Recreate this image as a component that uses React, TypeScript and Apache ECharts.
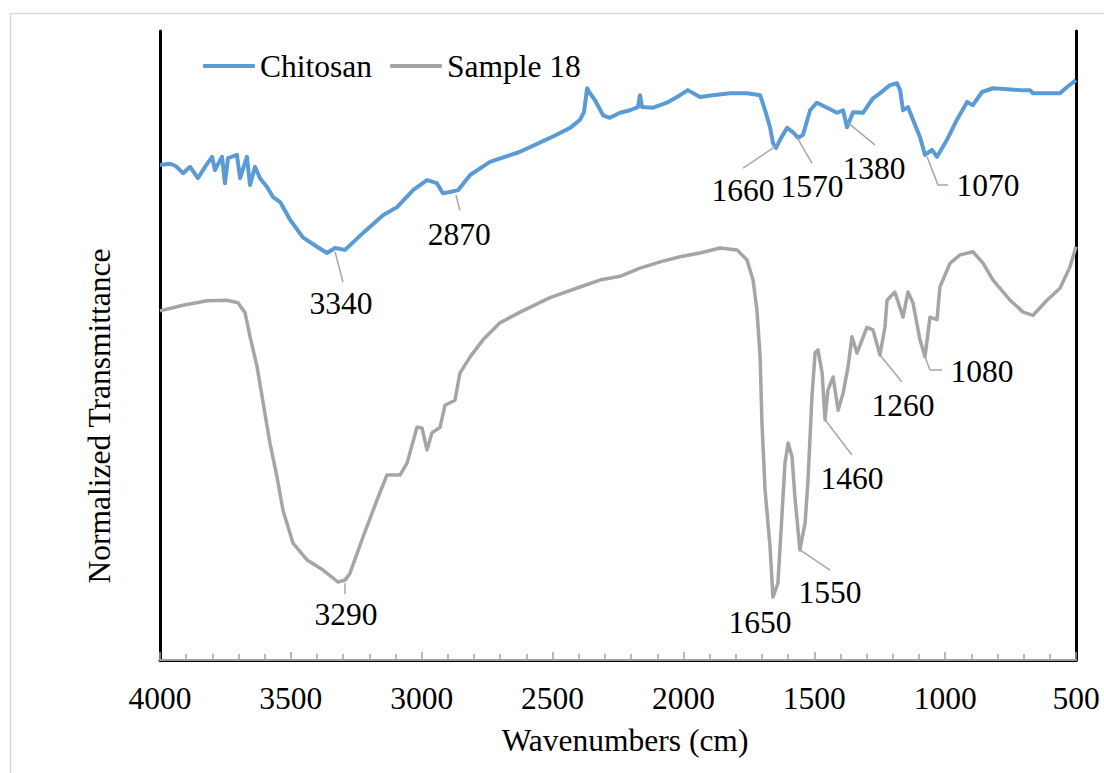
import React, { useEffect, useRef } from "react";
import * as echarts from "echarts";

// Chitosan spectrum (wavenumber cm-1, normalized transmittance, arbitrary units 0-100)
const chitosanWN = [4000,3962,3939,3912,3885,3855,3828,3801,3790,3763,3752,3740,3706,3694,3668,3656,3637,3618,3591,3568,3541,3503,3454,3400,3362,3331,3293,3224,3148,3094,3033,2980,2942,2919,2892,2861,2815,2739,2624,2510,2433,2395,2380,2368,2357,2338,2307,2281,2242,2204,2174,2166,2158,2116,2063,2013,1983,1937,1887,1822,1757,1707,1688,1669,1658,1646,1631,1604,1581,1562,1543,1516,1490,1451,1413,1390,1375,1352,1314,1276,1249,1211,1184,1172,1161,1142,1123,1096,1077,1050,1031,993,955,916,894,859,817,714,676,664,611,561,534,500];
const chitosanT = [78.7,78.9,78.5,77.4,78.4,76.6,78.4,80.0,77.9,80.0,75.8,79.8,80.3,76.6,80.0,75.5,78.4,76.6,75.2,73.6,72.8,70.0,67.2,65.7,64.7,65.5,65.2,67.9,70.7,72.0,74.7,76.3,75.8,74.2,74.4,74.7,77.1,79.2,80.8,83.0,84.6,85.9,87.1,90.9,90.1,89.0,86.6,86.2,87.0,87.4,87.9,89.8,87.9,87.8,88.6,89.8,90.6,89.5,89.8,90.1,90.1,89.8,87.4,84.7,82.2,81.4,82.7,84.6,83.9,83.0,83.5,87.4,88.6,87.8,87.0,87.4,84.7,87.1,87.0,89.3,90.1,91.4,91.7,90.6,87.4,87.9,85.9,83.1,80.3,81.1,80.0,82.7,85.9,88.7,88.2,90.3,90.9,90.6,90.6,90.1,90.1,90.1,91.1,92.2];

// Sample 18 spectrum
const sampleWN = [4000,3912,3820,3744,3702,3675,3656,3629,3606,3580,3553,3530,3492,3438,3377,3320,3293,3274,3224,3171,3133,3083,3056,3018,2999,2980,2961,2930,2911,2873,2854,2815,2766,2701,2624,2510,2395,2319,2242,2166,2089,2013,1937,1860,1795,1757,1734,1719,1707,1700,1688,1669,1658,1639,1623,1612,1600,1585,1574,1555,1535,1524,1509,1497,1486,1470,1459,1448,1428,1409,1390,1371,1356,1337,1299,1276,1249,1230,1222,1192,1161,1142,1123,1096,1077,1058,1031,1020,981,943,894,855,817,752,702,664,611,561,523,500];
const sampleT = [55.5,56.4,57.1,57.2,56.8,55.2,51.4,46.6,40.9,34.5,29.1,23.8,18.6,15.9,14.3,12.4,12.7,13.8,19.6,25.4,29.4,29.4,31.3,37.0,36.9,33.4,36.1,37.0,40.5,41.3,45.6,48.2,50.9,53.6,55.3,57.6,59.3,60.4,61.0,62.3,63.3,64.1,64.7,65.5,65.2,63.6,60.4,55.6,48.2,37.7,27.0,18.0,10.0,12.2,23.4,31.3,34.5,32.3,25.9,17.5,21.8,28.6,41.8,48.8,49.3,45.6,38.2,42.9,45.0,39.7,42.4,46.6,51.4,48.8,52.9,52.5,48.5,52.9,57.2,58.5,54.5,58.5,56.8,50.9,48.2,54.5,54.1,59.3,63.1,64.4,64.9,63.1,60.4,57.2,55.3,54.8,57.2,59.1,62.5,65.7];

const seriesNames = ["Chitosan", "Sample 18"];
const xTicks = { min: 500, max: 4000, step: 500 };

// Peak annotations: label, label position (wn, T), leader polyline points
const chitosanPeaks = ["3340", "2870", "1660", "1570", "1380", "1070"];
const chitosanPeakPos = [[3308, 56.6], [2857, 67.6], [1772, 74.6], [1509, 75.2], [1272, 78.2], [836, 75.4]];
const chitosanLeaders = [
  [[3331, 64.9], [3301, 60.1]],
  [[2869, 73.9], [2854, 71.5]],
  [[1650, 81.6], [1772, 78.2]],
  [[1566, 83.1], [1509, 79.0]],
  [[1371, 85.4], [1268, 81.9]],
  [[1069, 80.0], [1027, 75.5], [989, 75.5]],
];
const samplePeaks = ["3290", "1650", "1550", "1460", "1260", "1080"];
const samplePeakPos = [[3289, 7.3], [1707, 6.0], [1440, 10.7], [1356, 28.8], [1161, 40.5], [859, 45.8]];
const sampleLeaders = [
  [[3293, 12.2], [3293, 10.5]],
  [[1555, 17.5], [1440, 14.3]],
  [[1459, 38.2], [1356, 32.6]],
  [[1249, 48.5], [1165, 44.2]],
  [[1077, 48.2], [1058, 46.1], [1012, 46.1]],
];

const FONT = "'Liberation Serif', 'Times New Roman', serif";
const FS = 31.5;
const BLUE = "#5b9bd5";
const GRAY = "#a5a5a5";
const LEADER = "#a6a6a6";

function zip(a: number[], b: number[]) {
  return a.map((v, i) => [v, b[i]]);
}

function leaderSegments(polys: number[][][]) {
  const segs: any[] = [];
  polys.forEach((p) => {
    for (let i = 0; i < p.length - 1; i++) {
      segs.push([{ coord: p[i] }, { coord: p[i + 1] }]);
    }
  });
  return segs;
}

function peakPoints(labels: string[], pos: number[][]) {
  return labels.map((l, i) => ({ name: l, coord: pos[i] }));
}

function markSettings(labels: string[], pos: number[][], leaders: number[][][]) {
  return {
    markLine: {
      silent: true,
      symbol: ["none", "none"],
      lineStyle: { color: LEADER, width: 1.5, type: "solid" },
      label: { show: false },
      data: leaderSegments(leaders),
    },
    markPoint: {
      silent: true,
      symbol: "circle",
      symbolSize: 1,
      itemStyle: { color: "rgba(0,0,0,0)" },
      label: {
        show: true,
        position: "inside",
        formatter: "{b}",
        color: "#000",
        fontFamily: FONT,
        fontSize: FS,
      },
      data: peakPoints(labels, pos),
    },
  };
}

export default function App() {
  const ref = useRef<HTMLDivElement>(null);
  useEffect(() => {
    if (!ref.current) return;
    const chart = echarts.init(ref.current, null, { renderer: "svg" });
    const hiddenAxis = {
      axisTick: { show: false },
      axisLabel: { show: false },
      splitLine: { show: false },
    };
    chart.setOption({
      animation: false,
      backgroundColor: "#fff",
      grid: { left: 160, right: 28, top: 31, bottom: 113 },
      legend: {
        left: 198,
        top: 45,
        icon: "roundRect",
        itemWidth: 52,
        itemHeight: 4,
        itemGap: 18,
        textStyle: { fontFamily: FONT, fontSize: FS, color: "#000" },
        data: seriesNames,
      },
      xAxis: [
        {
          type: "value",
          min: xTicks.min,
          max: xTicks.max,
          interval: xTicks.step,
          inverse: true,
          position: "bottom",
          z: 5,
          axisLine: { show: true, lineStyle: { color: "#a0a0a0", width: 2 } },
          axisTick: { show: true, inside: true, length: 8, lineStyle: { color: "#a0a0a0", width: 1.5 } },
          minorTick: { show: true, splitNumber: 5, length: 6, lineStyle: { color: "#a0a0a0", width: 1.5 } },
          axisLabel: {
            color: "#000",
            fontFamily: FONT,
            fontSize: FS,
            margin: 22,
            formatter: (v: number) => String(v),
          },
          splitLine: { show: false },
        },
        {
          type: "value",
          min: xTicks.min,
          max: xTicks.max,
          inverse: true,
          position: "top",
          axisLine: { show: true, lineStyle: { color: "#000", width: 3 } },
          ...hiddenAxis,
        },
      ],
      yAxis: [
        {
          type: "value",
          min: 0,
          max: 100,
          position: "left",
          axisLine: { show: true, lineStyle: { color: "#000", width: 3 } },
          ...hiddenAxis,
        },
        {
          type: "value",
          min: 0,
          max: 100,
          position: "right",
          axisLine: { show: true, lineStyle: { color: "#000", width: 3 } },
          ...hiddenAxis,
        },
      ],
      series: [
        {
          name: seriesNames[0],
          type: "line",
          xAxisIndex: 0,
          yAxisIndex: 0,
          symbol: "none",
          itemStyle: { color: BLUE },
          lineStyle: { color: BLUE, width: 4, join: "round" },
          data: zip(chitosanWN, chitosanT),
          ...markSettings(chitosanPeaks, chitosanPeakPos, chitosanLeaders),
        },
        {
          name: seriesNames[1],
          type: "line",
          xAxisIndex: 0,
          yAxisIndex: 0,
          symbol: "none",
          itemStyle: { color: GRAY },
          lineStyle: { color: GRAY, width: 3.5, join: "round" },
          data: zip(sampleWN, sampleT),
          ...markSettings(samplePeaks, samplePeakPos, sampleLeaders),
        },
      ],
      graphic: [
        {
          type: "rect",
          shape: { x: 10.5, y: 13.5, width: 1100, height: 770 },
          style: { fill: "none", stroke: "#d9d9d9", lineWidth: 1.5 },
          silent: true,
        },
        {
          type: "text",
          x: 625,
          y: 740,
          style: {
            text: "Wavenumbers (cm)",
            fontFamily: FONT,
            fontSize: FS,
            fill: "#000",
            align: "center",
            verticalAlign: "middle",
          },
        },
        {
          type: "text",
          x: 99,
          y: 416,
          rotation: Math.PI / 2,
          style: {
            text: "Normalized Transmittance",
            fontFamily: FONT,
            fontSize: FS,
            fill: "#000",
            align: "center",
            verticalAlign: "middle",
          },
        },
      ],
    });
    return () => chart.dispose();
  }, []);
  return (
    <div
      ref={ref}
      style={{ position: "absolute", left: 0, top: 0, width: 1104, height: 773 }}
    />
  );
}
